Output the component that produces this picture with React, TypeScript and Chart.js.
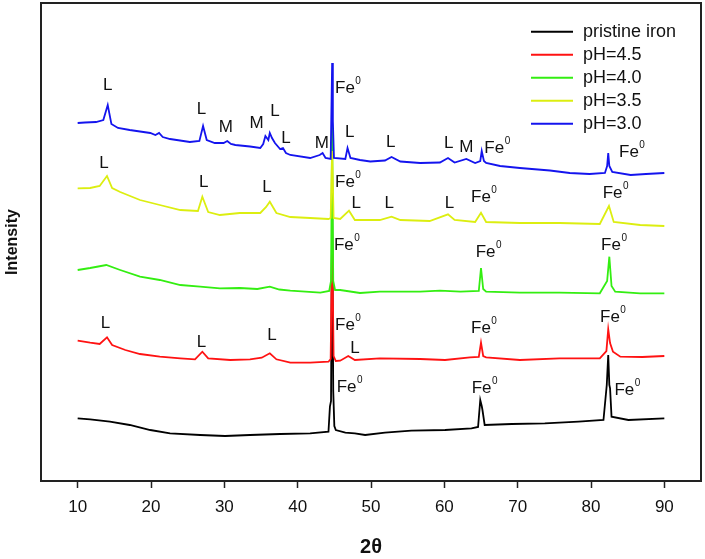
import React, { useEffect, useRef } from "react";
import { Chart, registerables } from "chart.js";

Chart.register(...registerables);

const FONT = "'Liberation Sans', Arial, sans-serif";

const xTickValues = [10, 20, 30, 40, 50, 60, 70, 80, 90];
const seriesLabels = ["pristine iron", "pH=4.5", "pH=4.0", "pH=3.5", "pH=3.0"];
const seriesColors = ["#000000", "#ff1212", "#33ee11", "#dcee10", "#1414ee"];

// [2θ, intensity (arbitrary, offset-stacked)]
const pristine: [number, number][] = [
  [10, 62.7], [11.7, 61.7], [14.4, 59.3], [17.1, 56], [19.9, 51], [22.6, 47.7], [26.7, 46],
  [30.1, 45], [33.5, 46], [37.6, 47], [41.7, 47.7], [44.2, 49.3], [44.4, 74.3], [44.55, 80],
  [44.7, 281], [44.85, 90], [45.0, 55], [45.2, 51], [46.5, 48.3], [47.8, 47.7], [49.2, 46],
  [51.9, 48.3], [55.5, 50.3], [60.1, 51], [63.7, 52.7], [64.6, 54], [64.9, 81], [65.1, 75],
  [65.2, 71], [65.5, 56], [69.2, 57], [73.7, 57.7], [78.3, 59.3], [81.7, 61], [82.15, 96],
  [82.35, 126], [82.5, 96], [82.6, 92.7], [82.8, 64.3], [85.1, 61], [90, 62.7],
];

const pH45: [number, number][] = [
  [10, 140.3], [11.7, 138.3], [13.0, 137], [14.0, 143.7], [14.7, 136], [16.5, 131], [18.5, 127],
  [21.2, 124.3], [24.0, 122.7], [26.0, 121.7], [27.0, 129.3], [27.8, 122.7], [30.8, 121],
  [33.5, 121.7], [35.1, 123.3], [36.2, 127.7], [37.1, 121.7], [39, 118.3], [41.7, 118.3],
  [44.2, 119.3], [44.5, 122], [44.7, 246], [44.9, 125], [45.2, 120], [45.8, 120.3], [46.9, 125],
  [47.8, 121], [51.2, 122.7], [56.7, 122], [60.1, 121], [63.5, 123.7], [64.7, 124], [65.0, 138.3],
  [65.3, 125], [65.7, 123.7], [70.3, 121], [75.7, 122.7], [81.2, 122.7], [82.1, 130],
  [82.35, 151.7], [82.6, 138], [83.0, 129.3], [84.0, 124.3], [87, 124], [90, 125],
];

const pH40: [number, number][] = [
  [10, 211], [11.7, 213], [13.9, 216], [15.8, 211], [18.5, 204.3], [21.2, 201], [24.0, 196],
  [26.7, 194.3], [29.4, 192.7], [32.1, 193], [34.5, 192], [36.2, 194.3], [37.5, 191.5],
  [39, 190.3], [43.1, 188.3], [44.3, 190], [44.55, 200], [44.7, 356], [44.85, 200], [45.1, 191],
  [45.8, 191], [48.5, 188], [51.2, 189.3], [56.7, 189.3], [59.4, 190.3], [62.2, 189.3],
  [64.7, 190], [65.0, 213], [65.3, 192], [65.7, 189.3], [70.3, 188.3], [75.7, 188.3],
  [81.2, 187.7], [82.2, 200], [82.5, 224.3], [82.8, 195], [83.3, 189.3], [86.7, 187.7], [90, 187.7],
];

const pH35: [number, number][] = [
  [10, 292.7], [11.7, 293], [13.0, 295], [14.0, 305], [14.7, 293], [15.8, 289], [18.5, 281],
  [21.2, 276], [24.0, 271], [26.4, 270], [27.0, 284.3], [27.8, 269], [29.4, 266], [32.1, 268],
  [34.9, 268], [35.7, 274], [36.2, 279.3], [37.1, 268], [39.0, 264], [41.7, 263], [44.2, 262],
  [44.5, 263], [44.7, 330], [44.9, 263], [45.8, 262], [47.0, 270.3], [47.8, 261], [51.2, 261],
  [52.8, 264.3], [54, 261], [58, 260], [60.5, 266.7], [61.4, 261], [64.2, 259], [65.0, 268.3],
  [65.7, 259], [70.3, 258], [75.7, 258], [81.2, 257], [82.45, 275], [83.1, 259], [86.7, 256],
  [90, 255],
];

const pH30: [number, number][] = [
  [10, 358], [11, 358.5], [12.5, 359], [13.5, 361], [14.1, 376], [14.6, 357], [15.5, 353],
  [17.1, 351], [19.9, 348], [20.6, 346], [21.1, 348], [21.6, 344], [22.6, 342], [25.3, 339],
  [26.6, 340], [27.1, 355], [27.6, 341], [28.7, 338], [29.9, 338], [30.4, 340], [30.9, 337],
  [31.5, 336], [33.5, 334.5], [34.9, 333], [35.3, 337], [35.6, 345], [36.0, 341], [36.2, 348],
  [36.5, 343], [36.9, 338], [37.6, 332], [38.0, 333], [38.4, 328], [39, 326], [41.7, 323],
  [43.0, 326], [43.4, 328], [43.8, 323], [44.5, 322], [44.6, 370], [44.7, 418], [44.8, 360],
  [44.95, 323], [46.5, 322], [46.8, 333], [47.2, 323], [48.5, 321], [49.9, 319.5], [51.9, 320.5],
  [52.8, 324], [54, 319.5], [56.7, 318], [59.4, 318.5], [60.5, 323], [61.4, 318.5], [63.0, 322],
  [64.2, 318], [64.9, 320], [65.1, 330], [65.4, 320], [65.7, 318], [67.6, 315], [70.3, 313],
  [74.4, 310.5], [77.1, 308], [79.8, 307], [81.9, 308], [82.2, 315], [82.35, 328], [82.5, 315],
  [82.9, 309], [85.4, 306], [87.5, 307], [90, 308],
];

const allSeries = [pristine, pH45, pH40, pH35, pH30];

// peak labels: [2θ anchor, intensity anchor, text]; "Fe" labels carry a superscript 0 and are left-anchored
const peakLabels: [number, number, string][] = [
  // pH=3.0
  [14.1, 396, "L"], [26.9, 372, "L"], [30.2, 354, "M"], [34.4, 358, "M"], [36.9, 370, "L"],
  [38.4, 343, "L"], [43.3, 338, "M"], [45.09, 393, "Fe"], [47.1, 349, "L"], [52.7, 339, "L"],
  [60.6, 338, "L"], [63.0, 334, "M"], [65.45, 333, "Fe"], [83.82, 329, "Fe"],
  // pH=3.5
  [13.6, 318, "L"], [27.2, 299, "L"], [35.8, 294, "L"], [45.09, 299, "Fe"], [48.0, 278, "L"],
  [52.5, 278, "L"], [60.7, 278, "L"], [63.64, 284, "Fe"], [81.6, 288, "Fe"],
  // pH=4.0
  [44.95, 236, "Fe"], [64.28, 229, "Fe"], [81.37, 236, "Fe"],
  // pH=4.5
  [13.8, 158, "L"], [26.9, 139, "L"], [36.5, 146, "L"], [45.09, 156, "Fe"], [47.8, 133, "L"],
  [63.64, 153, "Fe"], [81.23, 164, "Fe"],
  // pristine
  [45.32, 94, "Fe"], [63.73, 93, "Fe"], [83.19, 91, "Fe"],
];

const framePlugin = {
  id: "frame",
  afterDatasetsDraw(chart: any) {
    const { ctx, chartArea: a } = chart;
    ctx.save();
    ctx.strokeStyle = "#222";
    ctx.lineWidth = 2;
    ctx.strokeRect(a.left, a.top, a.right - a.left, a.bottom - a.top);
    ctx.restore();
  },
};

const peakLabelPlugin = {
  id: "peakLabels",
  afterDatasetsDraw(chart: any) {
    const { ctx } = chart;
    const xs = chart.scales.x;
    const ys = chart.scales.y;
    ctx.save();
    ctx.fillStyle = "#111";
    ctx.textBaseline = "middle";
    for (const [x, y, t] of peakLabels) {
      const px = xs.getPixelForValue(x);
      const py = ys.getPixelForValue(y);
      ctx.font = `17px ${FONT}`;
      if (t === "Fe") {
        ctx.textAlign = "left";
        ctx.fillText("Fe", px, py);
        const w = ctx.measureText("Fe").width;
        ctx.font = `10px ${FONT}`;
        ctx.fillText("0", px + w + 0.5, py - 6.5);
      } else {
        ctx.textAlign = "center";
        ctx.fillText(t, px, py);
      }
    }
    ctx.restore();
  },
};

const legendPlugin = {
  id: "customLegend",
  afterDraw(chart: any) {
    const { ctx, chartArea: a } = chart;
    ctx.save();
    const x0 = a.right - 170;
    const y0 = a.top + 28.7;
    chart.data.datasets.forEach((ds: any, i: number) => {
      const y = y0 + i * 23;
      ctx.strokeStyle = ds.borderColor;
      ctx.lineWidth = 2;
      ctx.beginPath();
      ctx.moveTo(x0, y);
      ctx.lineTo(x0 + 42, y);
      ctx.stroke();
      ctx.fillStyle = "#111";
      ctx.font = `18px ${FONT}`;
      ctx.textAlign = "left";
      ctx.textBaseline = "middle";
      ctx.fillText(ds.label, x0 + 52, y);
    });
    ctx.restore();
  },
};

export default function App() {
  const ref = useRef<HTMLCanvasElement>(null);
  useEffect(() => {
    const canvas = ref.current;
    if (!canvas) return;
    Chart.defaults.font.family = FONT;
    const datasets = allSeries.map((s, i) => ({
      label: seriesLabels[i],
      data: s.map(([x, y]) => ({ x, y })),
      borderColor: seriesColors[i],
      backgroundColor: seriesColors[i],
      borderWidth: 1.8,
      pointRadius: 0,
      tension: 0,
      fill: false,
      order: allSeries.length - i,
    }));
    const chart = new Chart(canvas, {
      type: "line",
      data: { datasets },
      options: {
        animation: false,
        responsive: false,
        devicePixelRatio: 1,
        layout: { padding: { left: 0, right: 4, top: 3, bottom: 0 } },
        plugins: { legend: { display: false }, tooltip: { enabled: false } },
        scales: {
          x: {
            type: "linear",
            min: 5,
            max: 95,
            afterBuildTicks: (s: any) => {
              s.ticks = xTickValues.map((v) => ({ value: v }));
            },
            afterFit: (s: any) => {
              s.height = 78;
            },
            grid: {
              display: true,
              drawOnChartArea: false,
              drawTicks: true,
              tickLength: 7,
              tickWidth: 1.5,
              tickColor: "#222",
            },
            border: { display: false },
            ticks: { font: { size: 17 }, color: "#111", padding: 9, maxRotation: 0, autoSkip: false },
            title: {
              display: true,
              text: "2θ",
              font: { size: 20, weight: "bold" },
              color: "#111",
              padding: { top: 0, bottom: 0 },
            },
          },
          y: {
            type: "linear",
            min: 0,
            max: 478,
            afterFit: (s: any) => {
              s.width = 41;
            },
            grid: { display: false },
            border: { display: false },
            ticks: { display: false },
            title: {
              display: true,
              text: "Intensity",
              font: { size: 16, weight: "bold" },
              color: "#111",
              padding: { top: 2.5, bottom: 0 },
            },
          },
        },
      } as any,
      plugins: [framePlugin, peakLabelPlugin, legendPlugin],
    });
    return () => chart.destroy();
  }, []);

  return (
    <div style={{ position: "fixed", left: 0, top: 0, width: 705, height: 559, background: "#fff" }}>
      <canvas ref={ref} width={705} height={559} style={{ display: "block" }} />
    </div>
  );
}
